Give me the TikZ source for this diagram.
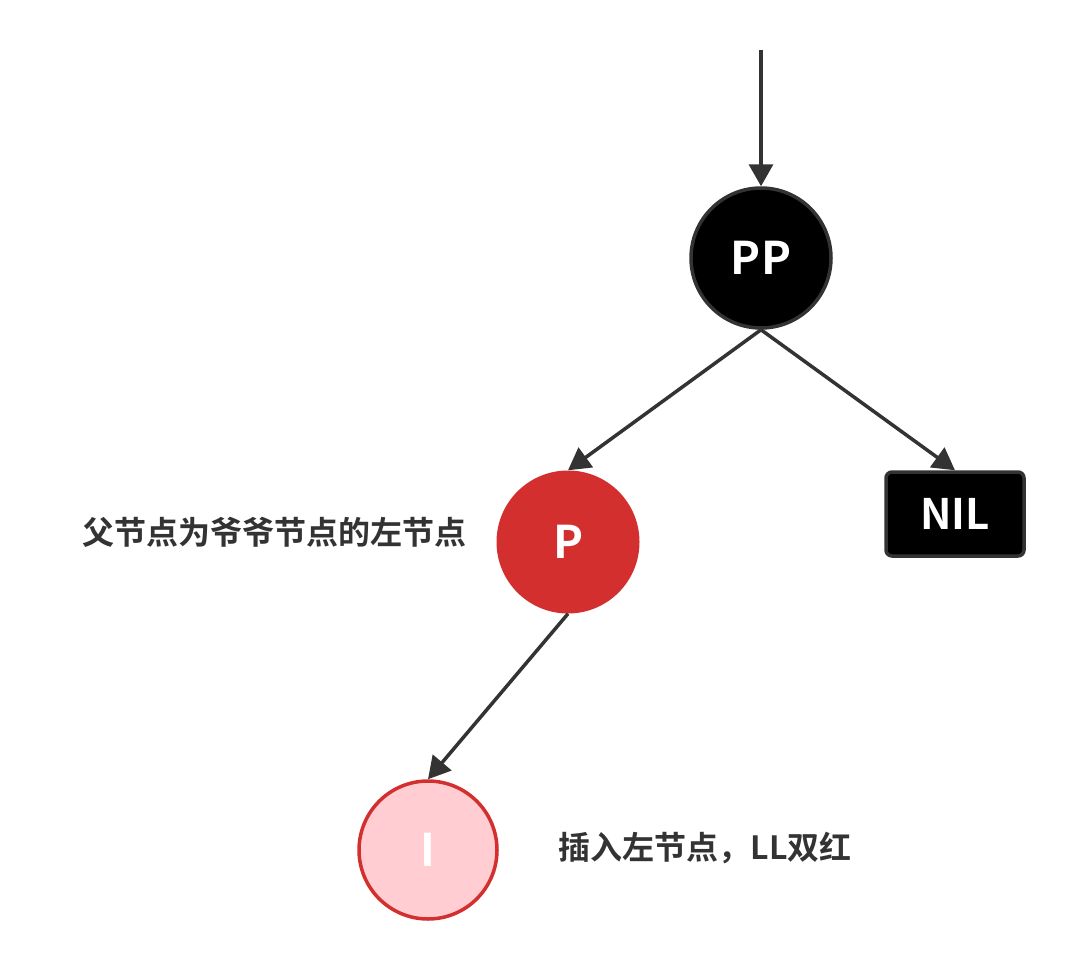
\documentclass[tikz,border=0pt]{standalone}
\usepackage{fontspec}
\setmainfont{Noto Sans CJK SC}[BoldFont={* Bold}]
\newfontfamily\cjk{Noto Sans CJK SC}[BoldFont={* Bold}]
\usetikzlibrary{arrows.meta}
\definecolor{edgegray}{HTML}{333333}
\definecolor{redfill}{HTML}{D32F2F}
\definecolor{pinkfill}{HTML}{FFCDD2}
\begin{document}
\begin{tikzpicture}[x=1pt,y=-1pt,
  blacknode/.style={circle,fill=black,draw=edgegray,line width=3.5pt,minimum size=140pt,inner sep=0pt,text=white,font=\cjk\bfseries\fontsize{45}{48}\selectfont},
  rednode/.style={circle,fill=redfill,minimum size=143pt,inner sep=0pt,text=white,font=\cjk\bfseries\fontsize{45}{48}\selectfont},
  pinknode/.style={circle,fill=pinkfill,draw=redfill,line width=3.5pt,minimum size=138pt,inner sep=0pt,text=white,font=\cjk\bfseries\fontsize{45}{48}\selectfont},
  nilnode/.style={rectangle,rounded corners=6pt,fill=black,draw=edgegray,line width=3.5pt,minimum width=138pt,minimum height=84pt,inner sep=0pt,text=white,font=\cjk\bfseries\fontsize{42}{46}\selectfont},
  label/.style={text=edgegray,font=\cjk\bfseries\fontsize{32}{36}\selectfont,inner sep=0pt},
  edge/.style={draw=edgegray,line width=3.5pt,-{Triangle[length=22pt,width=24pt]}}
]
\useasboundingbox (0,0) rectangle (1073,971);
\coordinate (start) at (761,50);
\node[blacknode] (PP) at (761,258) {PP};
\node[rednode] (P) at (568,542) {P};
\node[nilnode] (NIL) at (955,514) {NIL};
\node[pinknode] (I) at (428,850) {I};
\node[label] (l1) at (274,532) {父节点为爷爷节点的左节点};
\node[label] (l2) at (705,848) {插入左节点，LL双红};
\draw[edge] (start) -- (PP.north);
\draw[edge] (PP.south) -- (P.north);
\draw[edge] (PP.south) -- (NIL.north);
\draw[edge] (P.south) -- (I.north);
\end{tikzpicture}
\end{document}
